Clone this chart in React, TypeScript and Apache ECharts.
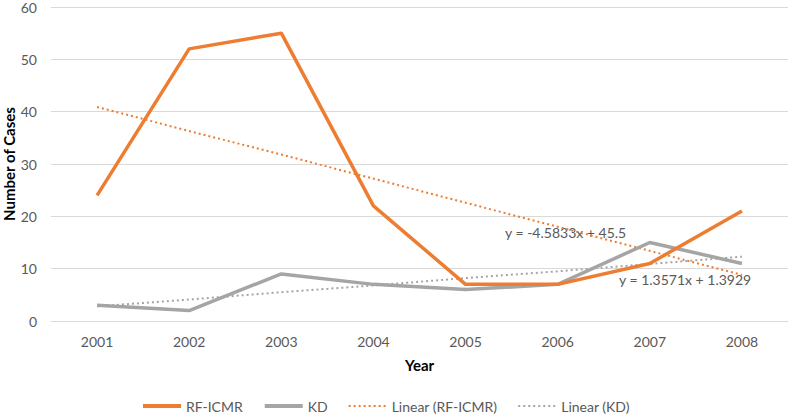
import React, { useEffect, useRef } from "react";
import * as echarts from "echarts";

const years = ["2001", "2002", "2003", "2004", "2005", "2006", "2007", "2008"];
const rfIcmr = [24, 52, 55, 22, 7, 7, 11, 21];
const kd = [3, 2, 9, 7, 6, 7, 15, 11];
const linearRf = [40.9, 36.3, 31.8, 27.2, 22.6, 18.0, 13.4, 8.8];
const linearKd = [2.8, 4.1, 5.5, 6.8, 8.2, 9.5, 10.9, 12.3];
const eqRf = "y = -4.5833x + 45.5";
const eqKd = "y = 1.3571x + 1.3929";

const ORANGE = "#ED7D31";
const GRAY = "#A5A5A5";
const FONT = "Lato, 'Open Sans', sans-serif";

export default function App() {
  const ref = useRef<HTMLDivElement>(null);
  useEffect(() => {
    document.body.style.margin = "0";
    const chart = echarts.init(ref.current!, null, { renderer: "svg" });
    chart.setOption({
      animation: false,
      textStyle: { fontFamily: FONT },
      grid: { left: 51, right: 1, top: 7, bottom: 97, containLabel: false, outerBoundsMode: "none" },
      xAxis: {
        type: "category",
        data: years,
        boundaryGap: true,
        axisLine: { lineStyle: { color: "#D9D9D9", width: 1 } },
        axisTick: { show: false },
        axisLabel: { color: "#595959", fontSize: 14, margin: 13, fontFamily: FONT },
        name: "Year",
        nameLocation: "middle",
        nameGap: 36,
        nameMoveOverlap: false,
        nameTextStyle: { color: "#000", fontSize: 15, fontWeight: "bold", fontFamily: FONT },
      },
      yAxis: {
        type: "value",
        min: 0,
        max: 60,
        interval: 10,
        axisLine: { show: false },
        axisTick: { show: false },
        splitLine: { lineStyle: { color: "#D9D9D9", width: 1 } },
        axisLabel: { color: "#595959", fontSize: 14, margin: 14, fontFamily: FONT },
        name: "Number of Cases",
        nameLocation: "middle",
        nameGap: 35,
        nameMoveOverlap: false,
        nameTextStyle: { color: "#000", fontSize: 15, fontWeight: "bold", fontFamily: FONT },
      },
      legend: {
        left: 136,
        bottom: 0,
        itemWidth: 38,
        itemHeight: 12,
        itemGap: 20,
        itemStyle: { opacity: 0 },
        textStyle: { color: "#595959", fontSize: 14, fontFamily: FONT },
        data: [
          { name: "RF-ICMR", lineStyle: { width: 4 } },
          { name: "KD", lineStyle: { width: 4 } },
          { name: "Linear (RF-ICMR)", lineStyle: { width: 2 } },
          { name: "Linear (KD)", lineStyle: { width: 2 } },
        ],
      },
      series: [
        {
          name: "RF-ICMR",
          type: "line",
          data: rfIcmr,
          symbol: "none",
          lineStyle: { color: ORANGE, width: 3.5 },
          itemStyle: { color: ORANGE },
          z: 4,
        },
        {
          name: "KD",
          type: "line",
          data: kd,
          symbol: "none",
          lineStyle: { color: GRAY, width: 3.5 },
          itemStyle: { color: GRAY },
          z: 3,
        },
        {
          name: "Linear (RF-ICMR)",
          type: "line",
          data: linearRf,
          symbol: "none",
          lineStyle: { color: ORANGE, width: 2, type: [2, 3] },
          itemStyle: { color: ORANGE },
          z: 2,
        },
        {
          name: "Linear (KD)",
          type: "line",
          data: linearKd,
          symbol: "none",
          lineStyle: { color: GRAY, width: 2, type: [2, 3] },
          itemStyle: { color: GRAY },
          z: 2,
        },
      ],
      graphic: [
        {
          type: "text",
          left: 505,
          top: 225,
          style: { text: eqRf, fill: "#595959", fontSize: 14, fontFamily: FONT },
        },
        {
          type: "text",
          left: 619,
          top: 272,
          style: { text: eqKd, fill: "#595959", fontSize: 14, fontFamily: FONT },
        },
      ],
    });
    return () => chart.dispose();
  }, []);
  return <div ref={ref} style={{ width: 789, height: 418 }} />;
}
